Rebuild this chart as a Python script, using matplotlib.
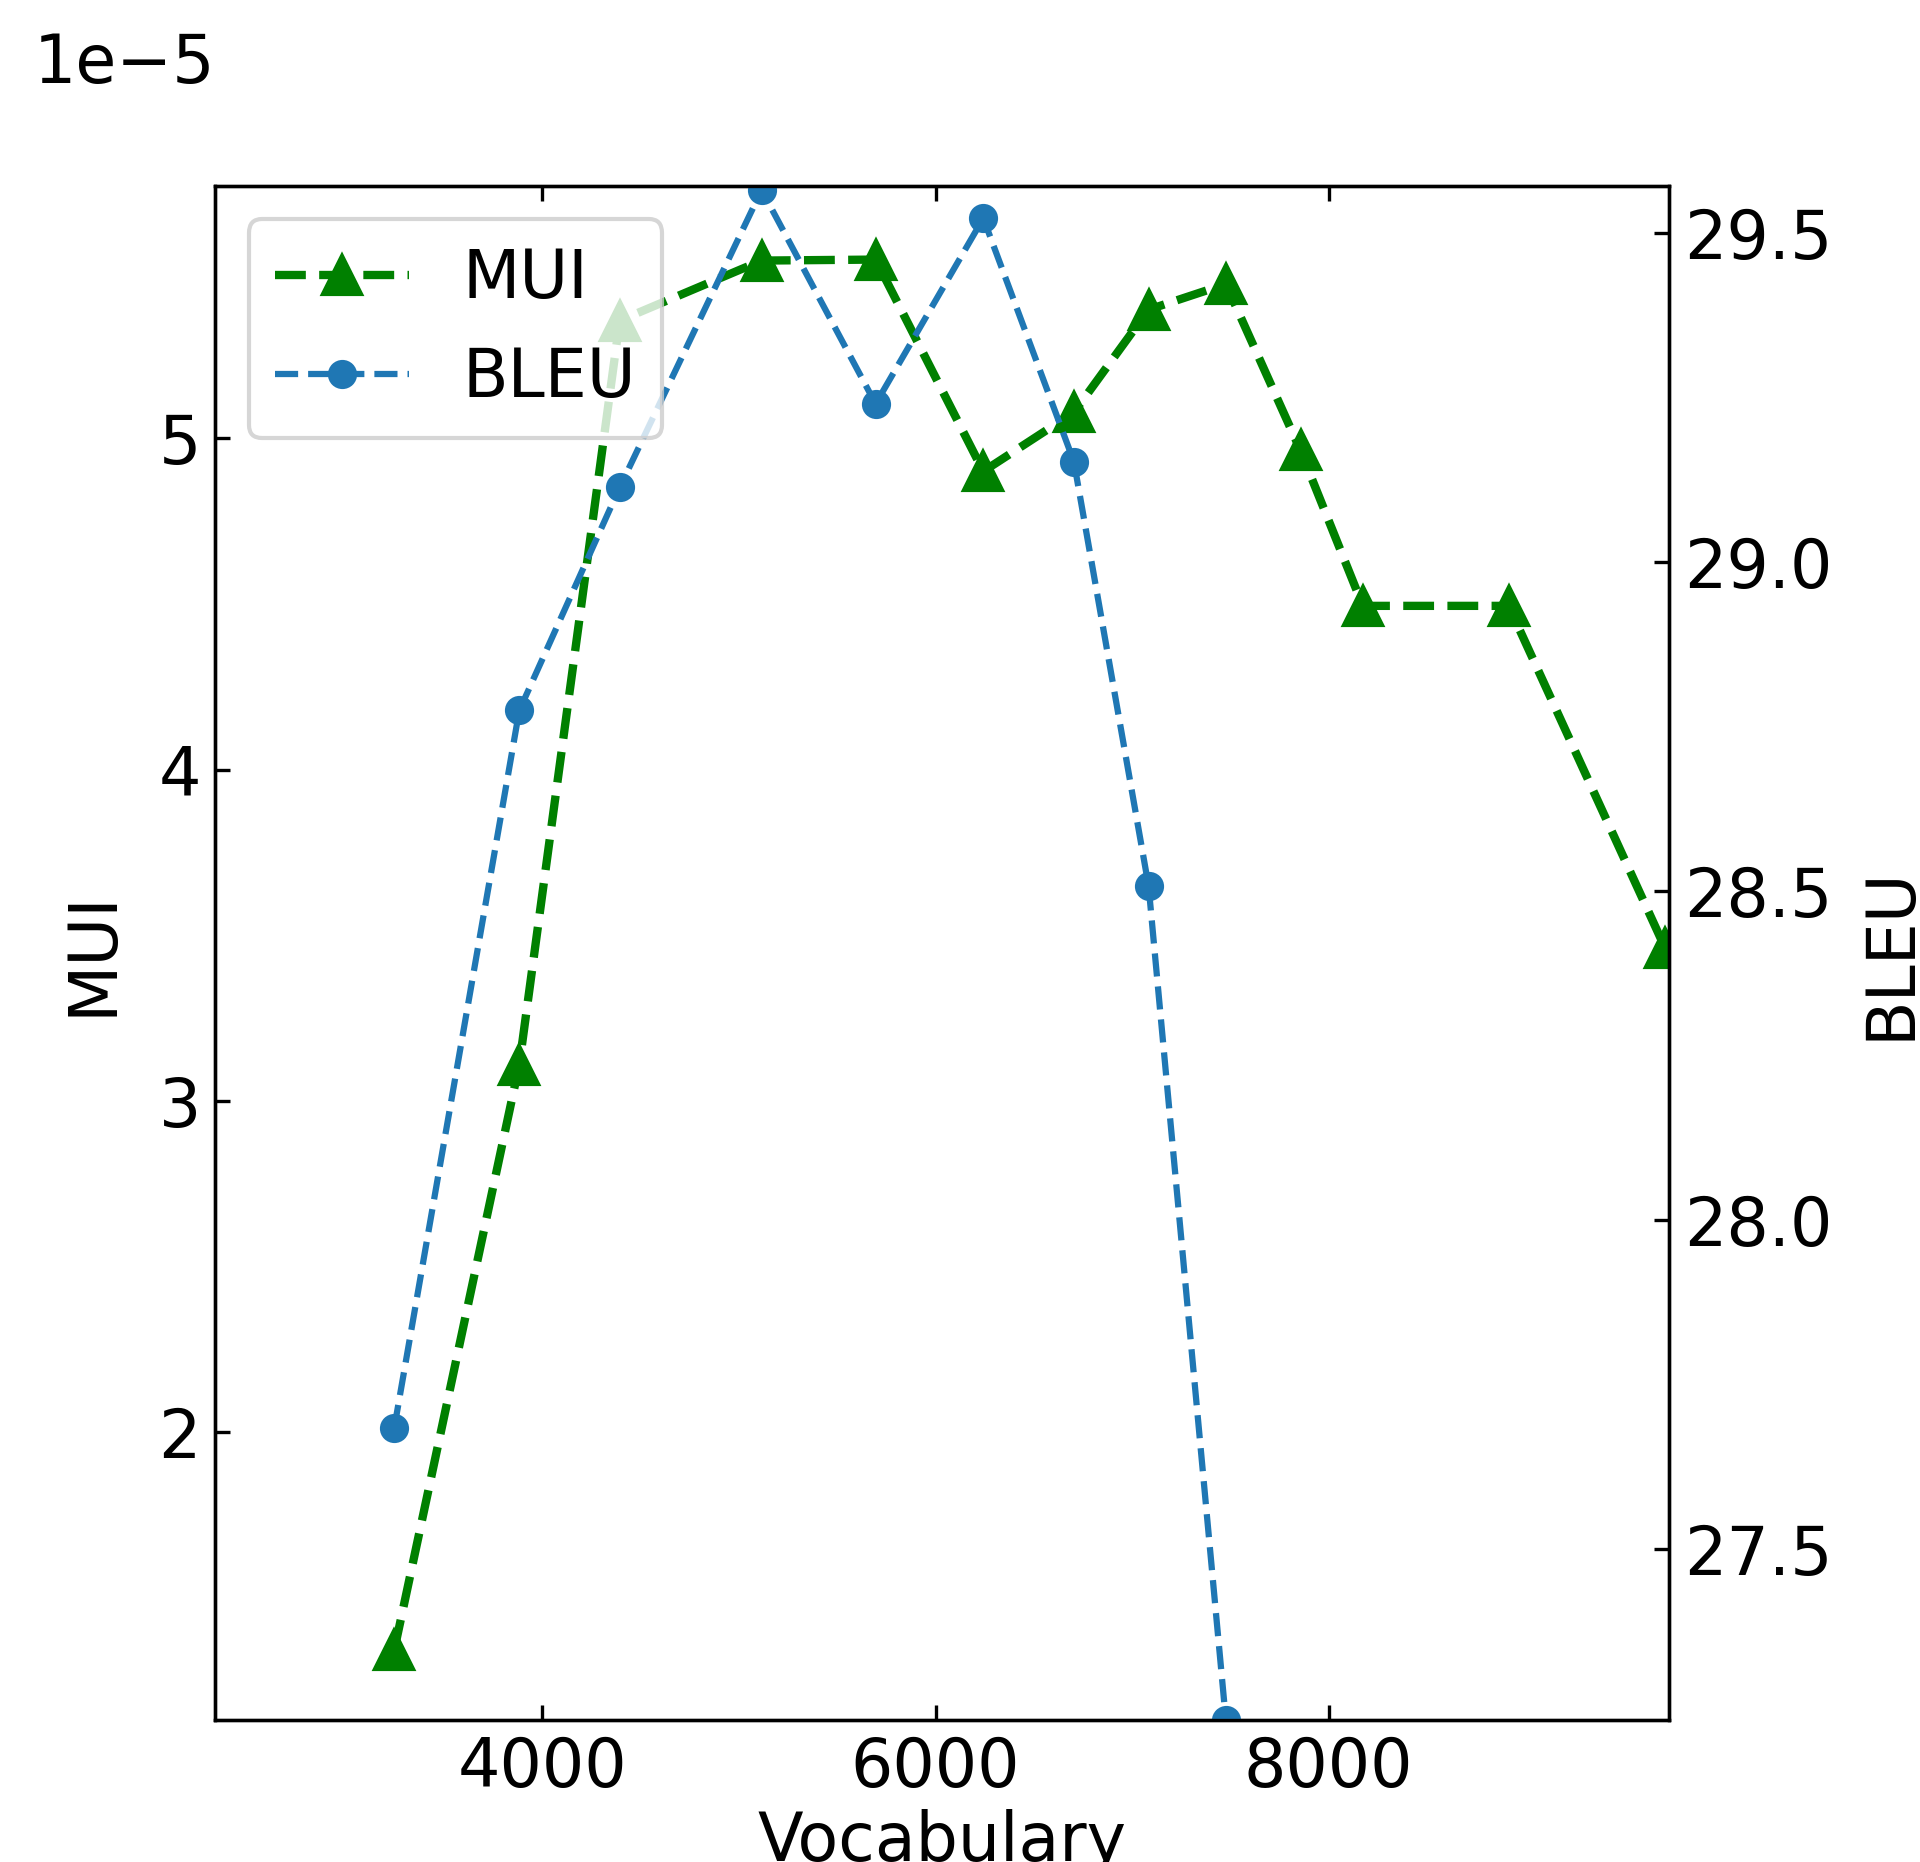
import matplotlib
matplotlib.use("Agg")
import matplotlib.pyplot as plt
import numpy as np

# Data
vocab = [3246, 3882, 4393, 5115, 5695, 6243, 6704, 7084, 7477, 7857, 8174, 8916, 9713]
mui = [1.343, 3.109, 5.355, 5.536, 5.539, 4.900, 5.078, 5.388, 5.465, 4.963, 4.494, 4.494, 3.460]  # x 1e-5
bleu_vocab = vocab[:9]
bleu = [27.684, 28.774, 29.113, 29.565, 29.240, 29.522, 29.152, 28.507, 27.240]

plt.rcParams['font.size'] = 16

fig = plt.figure(figsize=(6.4, 1862 / 300), dpi=300)
ax1 = fig.add_axes([0.1122, 0.0763, 0.8693 - 0.1122, 0.9001 - 0.0763])
ax2 = ax1.twinx()

l1, = ax1.plot(vocab, np.array(mui) * 1e-5, color='green', linestyle='--', marker='^',
               linewidth=2, markersize=9, label='MUI')
l2, = ax2.plot(bleu_vocab, bleu, color='#1f77b4', linestyle='--', marker='o',
               linewidth=1.5, markersize=6, label='BLEU')

ax1.set_xlim(2336, 9732)
ax1.set_ylim(1.132e-5, 5.761e-5)
ax2.set_ylim(27.24, 29.571)
ax1.set_xticks([4000, 6000, 8000])
ax1.set_yticks([2e-5, 3e-5, 4e-5, 5e-5])
ax2.set_yticks([27.5, 28.0, 28.5, 29.0, 29.5])

ax1.tick_params(axis='both', direction='in', top=True, right=False)
ax2.tick_params(axis='y', direction='in')

ax1.set_xlabel('Vocabulary', labelpad=2)
ax1.set_ylabel('MUI', labelpad=8)
ax2.set_ylabel('BLEU', labelpad=6)

ax1.yaxis.get_offset_text().set_visible(False)
fig.text(0.0177, 1 - 83 / 1862, '1e\u22125', fontsize=16, va='baseline', ha='left')

ax2.legend(handles=[l1, l2], loc='upper left')

fig.savefig('out.png', dpi=300)
